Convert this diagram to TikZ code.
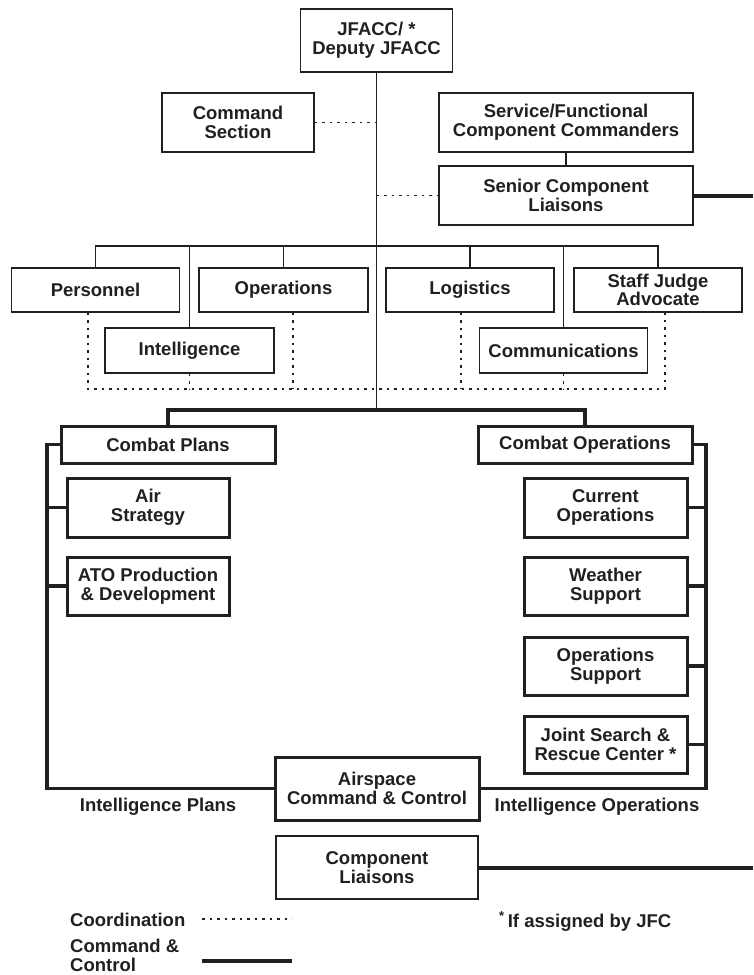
\documentclass[tikz,border=0pt]{standalone}
\usepackage{fontspec}
\setmainfont{Liberation Sans}
\usetikzlibrary{calc}
\definecolor{ink}{RGB}{35,31,32}
\tikzset{
  txt/.style={font=\fontsize{18.5}{18.7}\selectfont\bfseries, text=ink, align=center, inner sep=0pt},
  thinbox/.style 2 args={txt, draw=ink, line width=1.3pt, fill=white, minimum width=#1, minimum height=#2},
  boldbox/.style 2 args={txt, draw=ink, line width=3pt, fill=white, minimum width=#1, minimum height=#2},
  conn/.style={draw=ink, line width=1.3pt},
  coord/.style={draw=ink, line width=1.3pt, dash pattern=on 2.5pt off 5pt},
  ctwo/.style={draw=ink, line width=3.2pt, line join=miter},
  ctwoheavy/.style={draw=ink, line width=4pt},
}
\begin{document}
\begin{tikzpicture}[x=1pt,y=-1pt]
\useasboundingbox (0,0) rectangle (753,975);
% top
\node[thinbox={152}{63}] (jfacc) at (376.5,40.5) {JFACC/ *\\Deputy JFACC};
\node[thinbox={152}{59}] (cmd) at (238,122.5) {Command\\Section};
\node[thinbox={254}{59}] (svc) at (566,122.5) {Service/Functional\\Component Commanders};
\node[thinbox={254}{59}] (scl) at (566,195.5) {Senior Component\\Liaisons};
\coordinate (hub) at (376.5,410);
\coordinate (edge) at (753,0);
\draw[conn] (jfacc.south) -- (hub);
\draw[coord] (cmd.east) -- (cmd.east -| hub);
\draw[coord] (scl.west -| hub) -- (scl.west);
\draw[conn] (svc.south) -- (scl.north);
\draw[ctwoheavy] (scl.east) -- (scl.east -| edge);
% staff
\node[thinbox={168}{44}] (pers) at (95.5,290) {Personnel};
\node[thinbox={169}{44}] (ops) at (283.5,290) {Operations};
\node[thinbox={169}{45}] (intel) at (189.5,350.5) {Intelligence};
\node[thinbox={168}{44}] (log) at (470,290) {Logistics};
\node[thinbox={168}{44}] (sja) at (658,290) {Staff Judge\\Advocate};
\node[thinbox={168}{45}] (comm) at (563.5,350.5) {Communications};
\coordinate (bar) at (377,246);
\draw[conn] (pers.north) |- (sja.north |- bar) -- (sja.north);
\draw[conn] (ops.north) -- (ops.north |- bar);
\draw[conn] (intel.north) -- (intel.north |- bar);
\draw[conn] (log.north) -- (log.north |- bar);
\draw[conn] (comm.north) -- (comm.north |- bar);
\coordinate (dbar) at (377,389);
\path ([xshift=-7.5pt]pers.south) coordinate (pd);
\path ([xshift=7pt]sja.south) coordinate (sd);
\path ([xshift=9.5pt]ops.south) coordinate (od);
\path ([xshift=-9pt]log.south) coordinate (ld);
\draw[coord] (pd) |- (sd |- dbar) -- (sd);
\draw[coord] (od) -- (od |- dbar);
\draw[coord] (ld) -- (ld |- dbar);
\draw[coord] (intel.south) -- (intel.south |- dbar);
\draw[coord] (comm.south) -- (comm.south |- dbar);
% combat plans / operations
\node[boldbox={214}{37}] (cplans) at (168,444.5) {Combat Plans};
\node[boldbox={214}{37}] (cops) at (585,444.5) {Combat Operations};
\node[boldbox={162}{59}] (airstr) at (148,507.5) {Air\\Strategy};
\node[boldbox={162}{58}] (ato) at (148,586) {ATO Production\\\& Development};
\node[boldbox={163}{59}] (curops) at (605.5,507.5) {Current\\Operations};
\node[boldbox={163}{58}] (wx) at (605.5,586) {Weather\\Support};
\node[boldbox={163}{58}] (opsup) at (605.5,666) {Operations\\Support};
\node[boldbox={163}{57}] (jsrc) at (605.5,744.5) {Joint Search \&\\Rescue Center *};
\node[boldbox={204}{63}] (acc) at (377,788.5) {Airspace\\Command \& Control};
\draw[ctwo] (cops.north) |- (hub) -| (cplans.north);
\coordinate (lb) at (47,788.5);
\coordinate (rb) at (706,788.5);
\draw[ctwo] (cplans.west) -| (lb) -- (acc.west);
\draw[ctwo] (cops.east) -| (rb) -- (acc.east);
\draw[ctwo] (airstr.west) -- (airstr.west -| lb);
\draw[ctwo] (ato.west) -- (ato.west -| lb);
\draw[ctwo] (curops.east) -- (curops.east -| rb);
\draw[ctwo] (wx.east) -- (wx.east -| rb);
\draw[ctwo] (opsup.east) -- (opsup.east -| rb);
\draw[ctwo] (jsrc.east) -- (jsrc.east -| rb);
\node[txt, anchor=base] (iplans) at (158,811) {Intelligence Plans};
\node[txt, anchor=base] (iops) at (597,811) {Intelligence Operations};
% component liaisons
\node[thinbox={202}{63}] (cl) at (377,867.5) {Component\\Liaisons};
\draw[ctwoheavy] (cl.east) -- (cl.east -| edge);
% legend
\node[txt, anchor=base west] (lcoord) at (70,926) {Coordination};
\node[txt, anchor=north west, align=left] (lctwo) at (70,939) {Command \&\\Control};
\coordinate (la1) at (202,919);
\coordinate (la2) at (292,919);
\coordinate (lb1) at (202,961);
\coordinate (lb2) at (292,961);
\draw[coord] (la1) -- (la2);
\draw[ctwoheavy] (lb1) -- (lb2);
\node[txt, anchor=base west] (fn) at (499,927) {\textsuperscript{*}\,If assigned by JFC};
\end{tikzpicture}
\end{document}
